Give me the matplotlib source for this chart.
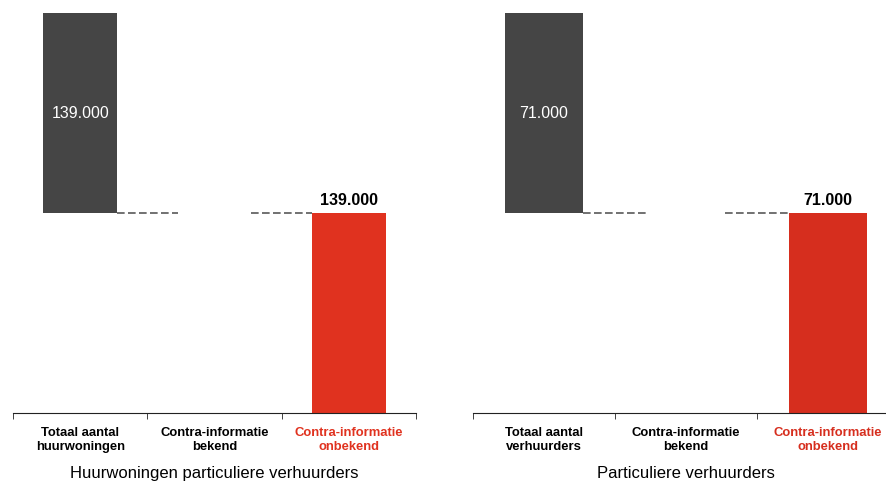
import matplotlib.pyplot as plt

plt.rcParams["font.family"] = ["Liberation Sans", "DejaVu Sans"]

# data
left_categories = ["Totaal aantal\nhuurwoningen", "Contra-informatie\nbekend", "Contra-informatie\nonbekend"]
right_categories = ["Totaal aantal\nverhuurders", "Contra-informatie\nbekend", "Contra-informatie\nonbekend"]
left_values = [139000, 0, 139000]
right_values = [71000, 0, 71000]
left_title = "Huurwoningen particuliere verhuurders"
right_title = "Particuliere verhuurders"


class Colors:
    TOTAL = "#454545"
    UNKNOWN_LEFT = "#e0321f"
    UNKNOWN_RIGHT = "#d62e1e"
    CONNECTOR = "#4a4a4a"
    AXIS = "#222222"


def fmt(v):
    return f"{v:,.0f}".replace(",", ".")


def draw_panel(ax, categories, values, red, title):
    total, known, unknown = values
    width = 0.55
    x = range(len(categories))

    # total bar floats on top of the remaining level
    ax.bar(0, total, bottom=total, width=width, color=Colors.TOTAL)
    ax.bar(1, known, bottom=unknown, width=width, color=Colors.TOTAL)
    ax.bar(2, unknown, width=width, color=red)

    ax.text(0, total * 1.5, fmt(total), ha="center", va="center", color="white", fontsize=11.5)
    ax.annotate(fmt(unknown), xy=(2, unknown), xytext=(0, 4), textcoords="offset points",
                ha="center", va="bottom", fontsize=11.5, fontweight="bold")

    # connectors between bars
    ax.plot([width / 2, 1 - width / 2], [total, total], color=Colors.CONNECTOR,
            linestyle=(0, (5, 2.2)), linewidth=1.1)
    ax.plot([1 + width / 2, 2 - width / 2], [unknown, unknown], color=Colors.CONNECTOR,
            linestyle=(0, (5, 2.2)), linewidth=1.1)

    ax.set_xlim(-0.5, 2.5)
    ax.set_ylim(0, total * 413.5 / 200)
    for side in ["top", "right", "left"]:
        ax.spines[side].set_visible(False)
    ax.spines["bottom"].set_color(Colors.AXIS)
    ax.set_yticks([])

    ax.set_xticks(list(x))
    ax.set_xticklabels(categories, fontsize=9.4, fontweight="bold", linespacing=1.25)
    ax.tick_params(axis="x", which="major", length=0, pad=9.5)
    ax.set_xticks([-0.5, 0.5, 1.5, 2.5], minor=True)
    ax.tick_params(axis="x", which="minor", length=4, color=Colors.AXIS)
    ax.get_xticklabels()[2].set_color(red)

    ax.set_xlabel(title, fontsize=12, labelpad=9)


fig = plt.figure(figsize=(8.87, 4.85), dpi=100)
ax_left = fig.add_axes([13 / 887, 1 - 414 / 485, 403 / 887, 414 / 485])
ax_right = fig.add_axes([473 / 887, 1 - 414 / 485, 426 / 887, 414 / 485])

draw_panel(ax_left, left_categories, left_values, Colors.UNKNOWN_LEFT, left_title)
draw_panel(ax_right, right_categories, right_values, Colors.UNKNOWN_RIGHT, right_title)

fig.savefig("out.png", dpi=100)
